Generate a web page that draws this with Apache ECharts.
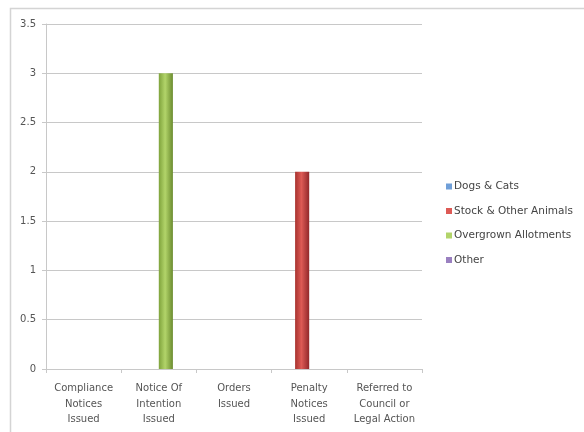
<!DOCTYPE html>
<html><head><meta charset="utf-8">
<script src="https://cdn.jsdelivr.net/npm/echarts@6/dist/echarts.min.js"></script>
<style>html,body{margin:0;padding:0;background:#fff}#c{width:584px;height:432px}</style>
</head><body><div id="c"></div>
<script>
const categories = ['Compliance\nNotices\nIssued','Notice Of\nIntention\nIssued','Orders\nIssued','Penalty\nNotices\nIssued','Referred to\nCouncil or\nLegal Action'];
const seriesNames = ['Dogs & Cats','Stock & Other Animals','Overgrown Allotments','Other'];
const dogsCats = [0,0,0,0,0];
const stockAnimals = [0,0,0,2,0];
const overgrown = [0,3,0,0,0];
const other = [0,0,0,0,0];
const yTicks = [0,0.5,1,1.5,2,2.5,3,3.5];

const baseColors = [
  ['#3a6aa8','#6f9fd8','#2f5a92'],
  ['#a8332f','#dd5a55','#92282a'],
  ['#7fa33c','#b2d46a','#6b8c2f'],
  ['#6a4f92','#9a80c0','#5a3f82']
];
function grad(c){
  return new echarts.graphic.LinearGradient(0,0,1,0,[
    {offset:0,color:c[0]},{offset:0.45,color:c[1]},{offset:1,color:c[2]}
  ]);
}
const values = [dogsCats, stockAnimals, overgrown, other];
const chart = echarts.init(document.getElementById('c'));
chart.setOption({
  animation:false,
  graphic:[{type:'rect',shape:{x:10.5,y:8.5,width:600,height:450},style:{fill:'none',stroke:'#d4d4d4',lineWidth:1.5}}],
  grid:{left:46,right:162,top:24,bottom:63},
  legend:{
    orient:'vertical',left:441,top:176,itemWidth:6,itemHeight:6,itemGap:13.5,
    textStyle:{fontFamily:'DejaVu Sans',fontSize:10.5,color:'#444',padding:[0,0,0,-3]},
    icon:'rect',
    data:seriesNames.map((n,i)=>({name:n,itemStyle:{color:baseColors[i][1]}}))
  },
  xAxis:{
    type:'category',data:categories,
    axisLine:{lineStyle:{color:'#c8c8c8'}},
    axisTick:{show:true,length:4,lineStyle:{color:'#c8c8c8'}},
    axisLabel:{interval:0,fontFamily:'DejaVu Sans',fontSize:10,color:'#555',lineHeight:15.5,margin:12}
  },
  yAxis:{
    type:'value',min:0,max:3.5,interval:0.5,
    axisLine:{show:true,lineStyle:{color:'#c8c8c8'}},
    axisTick:{show:true,length:4,lineStyle:{color:'#c8c8c8'}},
    splitLine:{lineStyle:{color:'#c8c8c8',width:1.2}},
    axisLabel:{fontFamily:'DejaVu Sans',fontSize:10,color:'#555',margin:10,
      formatter:v=>yTicks.indexOf(v)>=0?String(v):''}
  },
  series:seriesNames.map((n,i)=>({
    name:n,type:'bar',data:values[i],barGap:'0%',barCategoryGap:'25%',
    itemStyle:{color:grad(baseColors[i])}
  }))
});
</script></body></html>
